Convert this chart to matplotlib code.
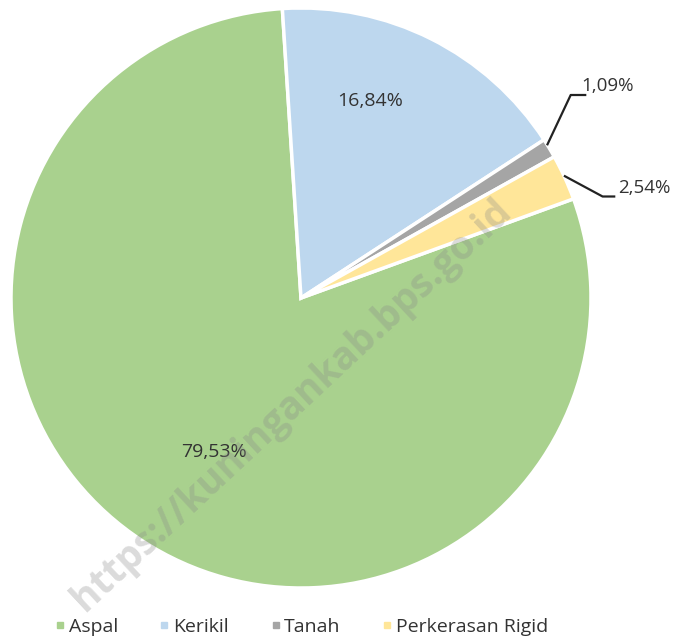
from matplotlib import pyplot as plt
from matplotlib.lines import Line2D

labels = ["Aspal", "Kerikil", "Tanah", "Perkerasan Rigid"]
values = [79.53, 16.84, 1.09, 2.54]
pct_text = ["79,53%", "16,84%", "1,09%", "2,54%"]
colors = ["#A9D18E", "#BDD7EE", "#A5A5A5", "#FFE699"]

plt.rcParams['font.family'] = ['Open Sans', 'DejaVu Sans']
txt = "#333333"

fig = plt.figure(figsize=(6.87, 6.43), dpi=100)
# pie centre ~ (301, 298) px, radius ~ 290 px
ax = fig.add_axes([(301 - 290) / 687, (643 - 298 - 290) / 643, 580 / 687, 580 / 643])
wedges, _ = ax.pie(values, colors=colors, startangle=20, counterclock=False,
                   wedgeprops=dict(edgecolor="white", linewidth=2.5))
ax.set_xlim(-1, 1)
ax.set_ylim(-1, 1)
ax.set_aspect("equal")

# inside labels
ax.text(0.24, 0.68, pct_text[1], ha="center", va="center", fontsize=14, color=txt)
ax.text(-0.30, -0.53, pct_text[0], ha="center", va="center", fontsize=14, color=txt)

# outside labels with leader lines
ax.plot([0.85, 0.93, 0.98], [0.53, 0.70, 0.70], color="#222222", lw=1.6, clip_on=False)
ax.text(0.965, 0.73, pct_text[2], ha="left", va="center", fontsize=13.5, color=txt)
ax.plot([0.91, 1.04, 1.08], [0.42, 0.35, 0.35], color="#222222", lw=1.6, clip_on=False)
ax.text(1.095, 0.38, pct_text[3], ha="left", va="center", fontsize=13.5, color=txt)

# watermark
fig.text(0.425, 0.37, "https://kuningankab.bps.go.id", rotation=43, fontsize=28,
         fontweight="bold", color="#888888", alpha=0.3, ha="center", va="center")

handles = [Line2D([], [], marker="s", linestyle="", markersize=5,
                  markerfacecolor=c, markeredgecolor=c) for c in colors]
fig.legend(handles, labels, loc="center", bbox_to_anchor=(0.437, 0.025), ncol=4,
           frameon=False, fontsize=14, handletextpad=0.05, columnspacing=2.0,
           handlelength=0.8, labelcolor=txt)

fig.savefig("out.png", dpi=100)
